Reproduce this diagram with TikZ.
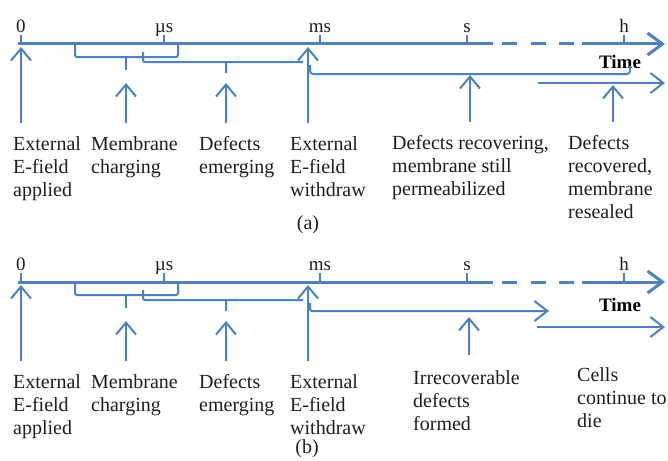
\documentclass[tikz,border=0pt]{standalone}
\usepackage{fontspec}
\setmainfont{Liberation Serif}
\usetikzlibrary{arrows.meta, calc}
\definecolor{LineBlue}{RGB}{79,129,189}
\definecolor{TextGray}{RGB}{30,30,30}
\newcommand{\timeaxis}[1]{% #1 = name prefix of the panel
  \coordinate (#1o) at (18,44);
  \coordinate (#1d1) at (493,44);
  \coordinate (#1d2) at (582,44);
  \coordinate (#1end) at (665,44);
  \draw[axis] (#1o) -- (#1d1);
  \draw[axis, dash pattern=on 15pt off 13.5pt, shorten <=9pt, shorten >=7pt] (#1d1) -- (#1d2);
  \draw[axis, -{Straight Barb[length=15pt, width=22pt]}] (#1d2) -- (#1end);
  \foreach \x/\n/\t in {21/0/0, 164/us/µs, 320/ms/ms, 467/s/s, 624/h/h}{
    \coordinate (#1t\n) at (\x,44);
    \draw[tick] (#1t\n) -- ++(0,-9);
    \node[tlabel] (#1l\n) at ($(#1t\n)+(0,-11.5)$) {\t};
  }
  % brackets
  \draw[brace] (75,44) -- (75,57) -- (178,57) -- (178,44);
  \draw[brace] (126,57) -- (126,70) coordinate (#1b1);
  \draw[brace] (143,52) -- (143,62) -- (303,62);
  \draw[brace] (226,62) -- (226,73) coordinate (#1b2);
  \coordinate (#1w) at (310,65);
  % labels under the axis
  \node[lbl] (#1e0) at (13,136) {External\\E-field\\applied};
  \node[lbl] (#1e1) at (91,136) {Membrane\\charging};
  \node[lbl] (#1e2) at (199,136) {Defects\\emerging};
  \node[lbl] (#1e3) at (290,136) {External\\E-field\\withdraw};
  \coordinate (#1p3) at (308,44);
  \draw[uparr] (#1e0.north -| #1t0) -- (#1t0);
  \draw[uparr, shorten >=13pt] (#1e1.north -| #1b1) -- (#1b1);
  \draw[uparr, shorten >=10pt] (#1e2.north -| #1b2) -- (#1b2);
  \draw[uparr] (#1e3.north -| #1p3) -- (#1p3);
}

\begin{document}
\begin{tikzpicture}[
    x=1pt, y=-1pt,
    axis/.style={draw=LineBlue, line width=3pt},
    tick/.style={draw=LineBlue, line width=1.5pt},
    brace/.style={draw=LineBlue, line width=2pt, rounded corners=2pt},
    uparr/.style={draw=LineBlue, line width=2pt, -{Straight Barb[length=12pt, width=20pt]},
        shorten <=13pt, shorten >=3pt},
    rarr/.style={draw=LineBlue, line width=2pt, -{Straight Barb[length=13pt, width=20pt]}},
    lbl/.style={anchor=north west, inner sep=0pt, align=left, text=TextGray,
        font=\fontsize{20}{23}\selectfont},
    tlabel/.style={anchor=base, inner sep=0pt, text=TextGray, font=\fontsize{19}{22}\selectfont},
    timelbl/.style={inner sep=0pt, text=black, font=\fontsize{19}{22}\selectfont\bfseries},
]
\useasboundingbox (0,0) rectangle (668,460);

% ===== (a) =====
\timeaxis{a-}
\node[timelbl] (a-time) at (620,62) {Time};
\coordinate (a-c) at (630,74);
\coordinate (a-hook) at (630,66);
\draw[brace, rounded corners=3pt] (a-w) |- (a-c) -- (a-hook);
\coordinate (a-r0) at (538,83);
\coordinate (a-r1) at (665,83);
\draw[rarr] (a-r0) -- (a-r1);
\node[lbl] (a-e4) at (392,135) {Defects recovering,\\membrane still\\permeabilized};
\node[lbl] (a-e5) at (568,135) {Defects\\recovered,\\membrane\\resealed};
\coordinate (a-p4) at (470,75);
\coordinate (a-p5) at (613,85);
\draw[uparr, shorten >=0pt] (a-e4.north -| a-p4) -- (a-p4);
\draw[uparr, shorten >=0pt] (a-e5.north -| a-p5) -- (a-p5);
\node[lbl, anchor=center] (a-cap) at (308,225) {(a)};

% ===== (b) =====
\begin{scope}[yshift=-238pt]
\timeaxis{b-}
\node[timelbl] (b-time) at (620,67) {Time};
\coordinate (b-wend) at (549,73);
\draw[rarr, rounded corners=2pt] (b-w) |- (b-wend);
\coordinate (b-r0) at (537,89);
\coordinate (b-r1) at (665,89);
\draw[rarr] (b-r0) -- (b-r1);
\node[lbl] (b-e4) at (413,132) {Irrecoverable\\defects\\formed};
\node[lbl] (b-e5) at (577,129) {Cells\\continue to\\die};
\coordinate (b-p4) at (469,79);
\draw[uparr, shorten <=15pt, shorten >=0pt] (b-e4.north -| b-p4) -- (b-p4);
\node[lbl, anchor=center] (b-cap) at (307,211) {(b)};
\end{scope}

\end{tikzpicture}
\end{document}
